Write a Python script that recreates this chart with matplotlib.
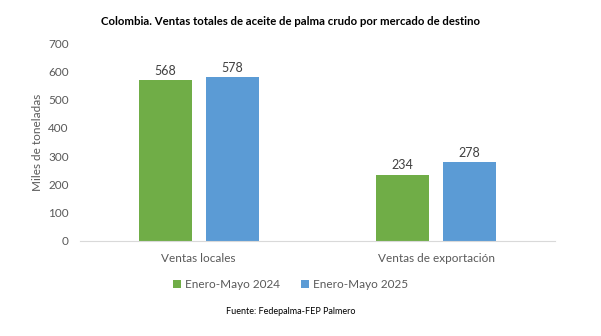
import matplotlib
matplotlib.use("Agg")
import matplotlib.pyplot as plt
import numpy as np

categories = ["Ventas locales", "Ventas de exportación"]
series_names = ["Enero-Mayo 2024", "Enero-Mayo 2025"]
values_2024 = [568, 234]
values_2025 = [578, 278]
y_ticks = [0, 100, 200, 300, 400, 500, 600, 700]

plt.rcParams['font.family'] = ['Lato', 'DejaVu Sans']

fig = plt.figure(figsize=(6.01, 3.36), dpi=100)
ax = fig.add_axes([0.133, 0.283, 0.79, 0.589])

x = np.arange(len(categories))
w = 0.223
off = 0.141
grey = '#595959'
b1 = ax.bar(x - off, values_2024, w, color='#70AD47', label=series_names[0])
b2 = ax.bar(x + off, values_2025, w, color='#5B9BD5', label=series_names[1])

for bars in (b1, b2):
    for r in bars:
        ax.text(r.get_x() + r.get_width() / 2, r.get_height() + 12, f"{int(r.get_height())}",
                ha='center', va='bottom', fontsize=9, color='#404040')

ax.set_xlim(-0.5, 1.5)
ax.set_ylim(0, 700)
ax.set_yticks(y_ticks)
ax.set_xticks(x)
ax.set_xticklabels(categories)
ax.tick_params(axis='both', length=0, labelsize=8.5, colors=grey)
ax.tick_params(axis='y', pad=8)
ax.tick_params(axis='x', pad=9)
for s in ['top', 'right', 'left']:
    ax.spines[s].set_visible(False)
ax.spines['bottom'].set_color('#D9D9D9')
ax.set_ylabel('Miles de toneladas', fontsize=8.5, color=grey, labelpad=4)

fig.text(0.483, 0.937, 'Colombia. Ventas totales de aceite de palma crudo por mercado de destino',
         ha='center', va='center', fontsize=8.2, fontweight='bold', color='black')
fig.legend(handles=[b1, b2], loc='center', bbox_to_anchor=(0.483, 0.152), ncol=2, frameon=False,
           fontsize=8.5, handlelength=0.7, handleheight=0.7, handletextpad=0.3, columnspacing=1.8,
           labelcolor=grey)
fig.text(0.483, 0.072, 'Fuente: Fedepalma-FEP Palmero', ha='center', va='center', fontsize=6.5,
         color='black')

fig.savefig('out.png', dpi=100)
